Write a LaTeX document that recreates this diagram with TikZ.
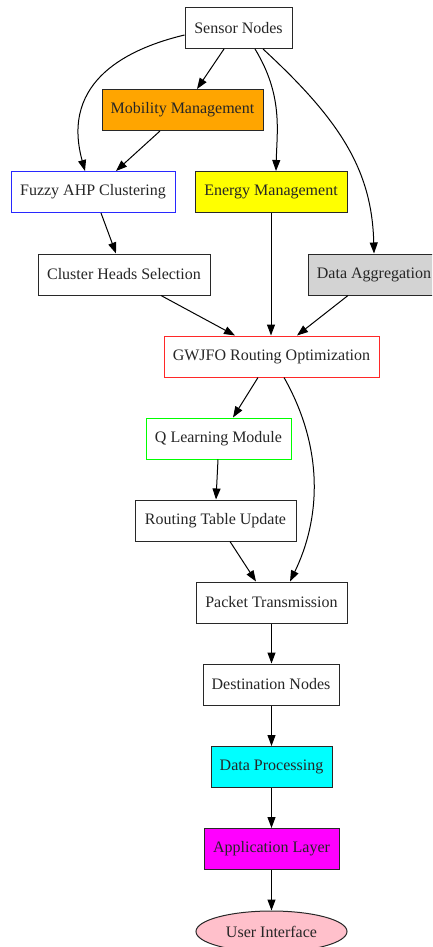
\documentclass[tikz,border=0pt]{standalone}
\usepackage{fontspec}
\setmainfont{Liberation Serif}
\usetikzlibrary{arrows.meta,shapes.geometric}
\definecolor{bd}{RGB}{40,40,40}
\definecolor{orng}{RGB}{255,165,0}
\definecolor{ylw}{RGB}{255,255,0}
\definecolor{cyn}{RGB}{0,255,255}
\definecolor{mgt}{RGB}{255,0,255}
\definecolor{ltg}{RGB}{211,211,211}
\definecolor{pnk}{RGB}{255,192,203}
\definecolor{grn}{RGB}{0,255,0}
\definecolor{rd}{RGB}{255,40,40}
\definecolor{bl}{RGB}{40,40,255}
\tikzset{
  box/.style={draw=bd, line width=1pt, rectangle, inner sep=0pt, minimum height=41pt, font=\fontsize{16}{18}\selectfont, text=black!85},
  con/.style={draw=black, line width=1pt, -{Triangle[length=11pt,width=8pt]}},
}
\begin{document}
\begin{tikzpicture}[x=1pt,y=-1pt]
\useasboundingbox (0,0) rectangle (432,947);
\fill[white] (0,0) rectangle (432,947);
\begin{scope}
\clip (0,0) rectangle (432,947);
\node[box, minimum width=107pt] (sensor) at (238.5,28) {Sensor Nodes};
\node[box, minimum width=161pt, fill=orng] (mob) at (182.5,110) {Mobility Management};
\node[box, minimum width=164pt, draw=bl] (fuzzy) at (93,192) {Fuzzy AHP Clustering};
\node[box, minimum width=152pt, fill=ylw] (energy) at (271,192) {Energy Management};
\node[box, minimum width=172pt] (chs) at (124,274.5) {Cluster Heads Selection};
\node[box, minimum width=132pt, fill=ltg] (agg) at (374,274.5) {Data Aggregation};
\node[box, minimum width=215pt, draw=rd] (gwjfo) at (271.5,356.5) {GWJFO Routing Optimization};
\node[box, minimum width=145pt, draw=grn] (ql) at (218.5,438.5) {Q Learning Module};
\node[box, minimum width=161pt] (rtu) at (215.5,520.5) {Routing Table Update};
\node[box, minimum width=151pt] (pkt) at (271.5,602.5) {Packet Transmission};
\node[box, minimum width=136pt] (dest) at (271,684.5) {Destination Nodes};
\node[box, minimum width=121pt, fill=cyn] (proc) at (271.5,767) {Data Processing};
\node[box, minimum width=135pt, fill=mgt] (app) at (271.5,849) {Application Layer};
\node[box, ellipse, minimum width=151pt, minimum height=41pt, fill=pnk] (ui) at (271.5,931.5) {User Interface};

\draw[con] (sensor.south -| 224,0) -- (mob.north -| 197,0);
\draw[con] (sensor.west |- 0,35) .. controls (130,48) and (60,80) .. (fuzzy.north -| 85,0);
\draw[con] (mob.south -| 160,0) -- (fuzzy.north -| 116,0);
\draw[con] (sensor.south -| 255,0) .. controls (283,95) and (277,130) .. (energy.north -| 276,0);
\draw[con] (sensor.south -| 263,0) .. controls (340,120) and (372,170) .. (agg.north -| 374,0);
\draw[con] (fuzzy.south -| 101,0) -- (chs.north -| 116,0);
\draw[con] (chs.south -| 161,0) -- (gwjfo.north -| 235,0);
\draw[con] (energy.south) -- (gwjfo.north -| energy.south);
\draw[con] (agg.south -| 348,0) -- (gwjfo.north -| 297,0);
\draw[con] (gwjfo.south -| 258,0) -- (ql.north -| 233,0);
\draw[con] (gwjfo.south -| 284,0) .. controls (325,450) and (320,520) .. (pkt.north -| 290,0);
\draw[con] (ql.south -| 218,0) -- (rtu.north -| 216,0);
\draw[con] (rtu.south -| 230,0) -- (pkt.north -| 256,0);
\draw[con] (pkt.south -| 271.5,0) -- (dest.north -| 271.5,0);
\draw[con] (dest.south -| 271.5,0) -- (proc.north -| 271.5,0);
\draw[con] (proc.south -| 271.5,0) -- (app.north -| 271.5,0);
\draw[con] (app.south -| 271.5,0) -- (ui.north -| 271.5,0);
\end{scope}
\end{tikzpicture}
\end{document}
